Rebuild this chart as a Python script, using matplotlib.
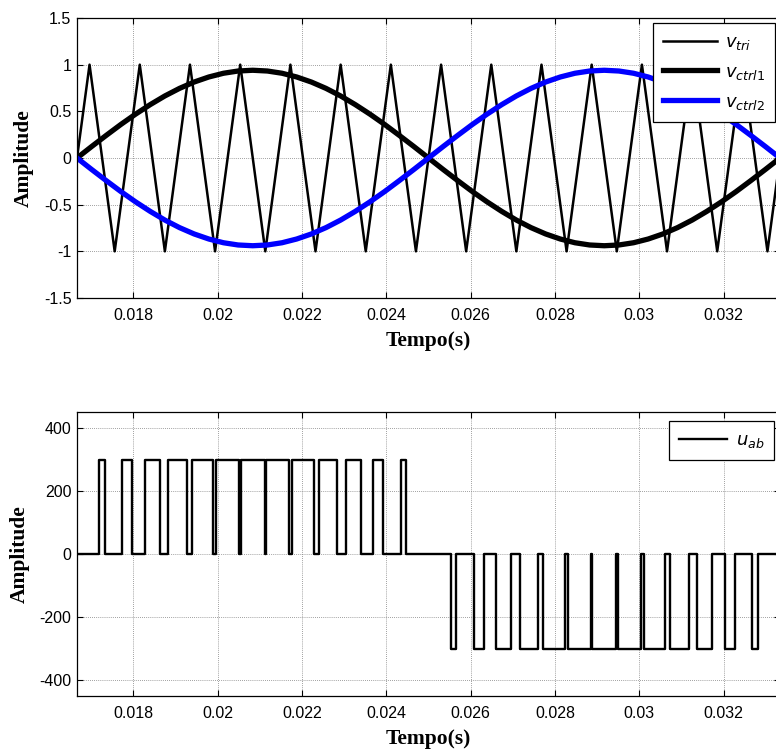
import numpy as np
import matplotlib
matplotlib.use("Agg")
import matplotlib.pyplot as plt
from matplotlib.ticker import FixedLocator, FuncFormatter

# ---------------- data ----------------
T0 = 1 / 60
T1 = 2 / 60

# triangular carrier (vertices)
tri_t = [0.016667, 0.016964, 0.017560, 0.018155, 0.018750, 0.019345, 0.019940,
         0.020536, 0.021131, 0.021726, 0.022321, 0.022917, 0.023512, 0.024107,
         0.024702, 0.025298, 0.025893, 0.026488, 0.027083, 0.027679, 0.028274,
         0.028869, 0.029464, 0.030060, 0.030655, 0.031250, 0.031845, 0.032440,
         0.033036, 0.033333]
tri_v = [0, 1, -1, 1, -1, 1, -1, 1, -1, 1, -1, 1, -1, 1, -1,
         1, -1, 1, -1, 1, -1, 1, -1, 1, -1, 1, -1, 1, -1, 0]

# control signals (49 samples over one period)
ctrl1 = [0.000, 0.123, 0.243, 0.360, 0.470, 0.572, 0.665, 0.746, 0.814, 0.868,
         0.908, 0.932, 0.940, 0.932, 0.908, 0.868, 0.814, 0.746, 0.665, 0.572,
         0.470, 0.360, 0.243, 0.123, 0.000, -0.123, -0.243, -0.360, -0.470,
         -0.572, -0.665, -0.746, -0.814, -0.868, -0.908, -0.932, -0.940, -0.932,
         -0.908, -0.868, -0.814, -0.746, -0.665, -0.572, -0.470, -0.360, -0.243,
         -0.123, 0.000]
ctrl2 = [0.000, -0.123, -0.243, -0.360, -0.470, -0.572, -0.665, -0.746, -0.814,
         -0.868, -0.908, -0.932, -0.940, -0.932, -0.908, -0.868, -0.814, -0.746,
         -0.665, -0.572, -0.470, -0.360, -0.243, -0.123, 0.000, 0.123, 0.243,
         0.360, 0.470, 0.572, 0.665, 0.746, 0.814, 0.868, 0.908, 0.932, 0.940,
         0.932, 0.908, 0.868, 0.814, 0.746, 0.665, 0.572, 0.470, 0.360, 0.243,
         0.123, 0.000]

# output voltage u_ab pulses: centre time (s), width (ms), level (V)
pulse_c = [0.017262, 0.017857, 0.018452, 0.019048, 0.019643, 0.020238, 0.020833,
           0.021429, 0.022024, 0.022619, 0.023214, 0.023810, 0.024405,
           0.025595, 0.026190, 0.026786, 0.027381, 0.027976, 0.028571, 0.029167,
           0.029762, 0.030357, 0.030952, 0.031548, 0.032143, 0.032738]
pulse_w = [0.124, 0.243, 0.349, 0.437, 0.504, 0.545, 0.560, 0.545, 0.504, 0.437,
           0.349, 0.243, 0.124,
           0.124, 0.243, 0.349, 0.437, 0.504, 0.545, 0.560, 0.545, 0.504, 0.437,
           0.349, 0.243, 0.124]
pulse_l = [300, 300, 300, 300, 300, 300, 300, 300, 300, 300, 300, 300, 300,
           -300, -300, -300, -300, -300, -300, -300, -300, -300, -300, -300,
           -300, -300]

x_ticks = [0.018, 0.02, 0.022, 0.024, 0.026, 0.028, 0.03, 0.032]
y1_ticks = [-1.5, -1, -0.5, 0, 0.5, 1, 1.5]
y2_ticks = [-400, -200, 0, 200, 400]

# ---------------- build ----------------
t_ctrl = np.linspace(T0, T1, len(ctrl1))
ux = [T0]
uy = [0]
for c, w, l in zip(pulse_c, pulse_w, pulse_l):
    a = c - w / 2000.0
    b = c + w / 2000.0
    ux += [a, a, b, b]
    uy += [0, l, l, 0]
ux.append(T1)
uy.append(0)

plt.rcParams["mathtext.fontset"] = "dejavusans"

W, H = 776, 749
fig = plt.figure(figsize=(W / 100, H / 100), dpi=100)

left = 77 / W
width = 703 / W
ax1 = fig.add_axes([left, (H - 298) / H, width, 280 / H])
ax2 = fig.add_axes([left, (H - 696) / H, width, 283.7 / H])

label_font = dict(family="Liberation Serif", weight="bold")

fmt = FuncFormatter(lambda v, p: f"{v:g}")

for ax in (ax1, ax2):
    ax.set_xlim(T0, T1)
    ax.xaxis.set_major_locator(FixedLocator(x_ticks))
    ax.xaxis.set_major_formatter(fmt)
    ax.yaxis.set_major_formatter(fmt)
    ax.grid(True, linestyle=(0, (1, 1.5)), color="0.5", linewidth=0.6)
    ax.set_axisbelow(True)
    ax.tick_params(direction="in", top=True, right=True, length=4, width=0.8,
                   labelsize=11.5)
    ax.tick_params(axis="x", pad=7)
    ax.tick_params(axis="y", pad=4)
    for s in ax.spines.values():
        s.set_linewidth(0.9)
    ax.set_xlabel("Tempo(s)", fontsize=15.5, labelpad=6, **label_font)
    ax.set_ylabel("Amplitude", fontsize=15.5, labelpad=7, **label_font)

# top
ax1.plot(tri_t, tri_v, color="black", lw=1.8, label=r"$v_{tri}$")
ax1.plot(t_ctrl, ctrl1, color="black", lw=3.8, label=r"$v_{ctrl1}$")
ax1.plot(t_ctrl, ctrl2, color="#0000ff", lw=3.8, label=r"$v_{ctrl2}$")
ax1.set_ylim(-1.5, 1.5)
ax1.yaxis.set_major_locator(FixedLocator(y1_ticks))
leg1 = ax1.legend(loc="upper right", bbox_to_anchor=(0.9929, 0.982),
                  borderaxespad=0, fontsize=13, handlelength=3.0,
                  handletextpad=0.45, labelspacing=0.6, borderpad=0.55,
                  fancybox=False, framealpha=1, edgecolor="black")
leg1.get_frame().set_linewidth(0.9)

title = ax1.set_title("Sinais de comparação", fontsize=20, fontweight="bold",
                      family="Liberation Serif", pad=17)
title.set_x(0.5 - 16 / 703)

# bottom
ax2.plot(ux, uy, color="black", lw=1.7, label=r"$u_{ab}$")
ax2.set_ylim(-450, 450)
ax2.yaxis.set_major_locator(FixedLocator(y2_ticks))
leg2 = ax2.legend(loc="upper right", bbox_to_anchor=(0.9915, 0.9693),
                  borderaxespad=0, fontsize=13, handlelength=2.7,
                  handletextpad=0.45, borderpad=0.55,
                  fancybox=False, framealpha=1, edgecolor="black")
leg2.get_frame().set_linewidth(0.9)

for ax in (ax1, ax2):
    for lab in ax.get_xticklabels() + ax.get_yticklabels():
        lab.set_family("Liberation Sans")

fig.savefig("out.png", dpi=100)
